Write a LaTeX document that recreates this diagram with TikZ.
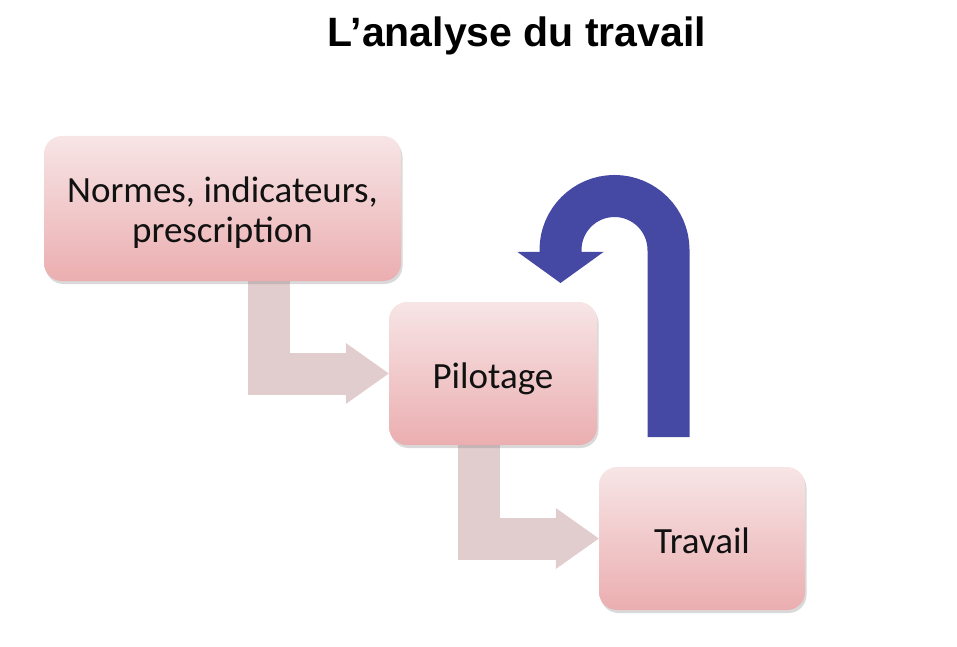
\documentclass[tikz,border=0pt]{standalone}
\usepackage{fontspec}
\setmainfont{Carlito}
\newfontfamily\titlefont{Liberation Sans}
\usepackage{tikz}
\usetikzlibrary{arrows.meta,calc,shadows,backgrounds}
\definecolor{ink}{HTML}{111111}
\definecolor{boxtop}{HTML}{F7E5E6}
\definecolor{boxbot}{HTML}{EBAEB0}
\definecolor{flow}{HTML}{E2CDCE}
\definecolor{loop}{HTML}{4549A3}

\begin{document}
\begin{tikzpicture}[x=1pt,y=1pt,
  box/.style={rounded corners=18pt,top color=boxtop,bottom color=boxbot,inner sep=0pt,align=center,text=ink,
    font=\fontsize{37}{40}\selectfont,text height=29pt,text depth=0pt,
    drop shadow={shadow xshift=1.5pt,shadow yshift=-3pt,opacity=.3}},
  flowarrow/.style={draw=flow,line width=42pt,-{Triangle[length=43pt,width=61pt,line width=0pt]}}]
\useasboundingbox (0,0) rectangle (957,646);
% title
\node[font=\titlefont\bfseries\fontsize{41}{41}\selectfont,anchor=base] (title) at (517,599){L’analyse du travail};
% boxes
\node[box,minimum width=357pt,minimum height=145pt,text height={},text depth={}] (norms) at (222.5,437.5){\rule{0pt}{34.5pt}Normes, indicateurs,\\prescription};
\node[box,minimum width=208pt,minimum height=143pt] (pilot) at (493,272.5){Pilotage};
\node[box,minimum width=206pt,minimum height=143pt] (work) at (702,107.5){Travail};
% arrows
\begin{scope}[on background layer]
\draw[flowarrow] ([xshift=46.5pt]norms.south) |- (pilot.west);
\draw[flowarrow] ([xshift=-14pt]pilot.south) |- (work.west);
\coordinate (loopstart) at (668.5,209);
\draw[draw=loop,line width=42pt,-{Triangle[length=31pt,width=86pt,line width=0pt]}]
  (loopstart) -- (668.5,396) arc[start angle=0,end angle=180,radius=54] -- ++(0,-33);
\end{scope}
\end{tikzpicture}
\end{document}
